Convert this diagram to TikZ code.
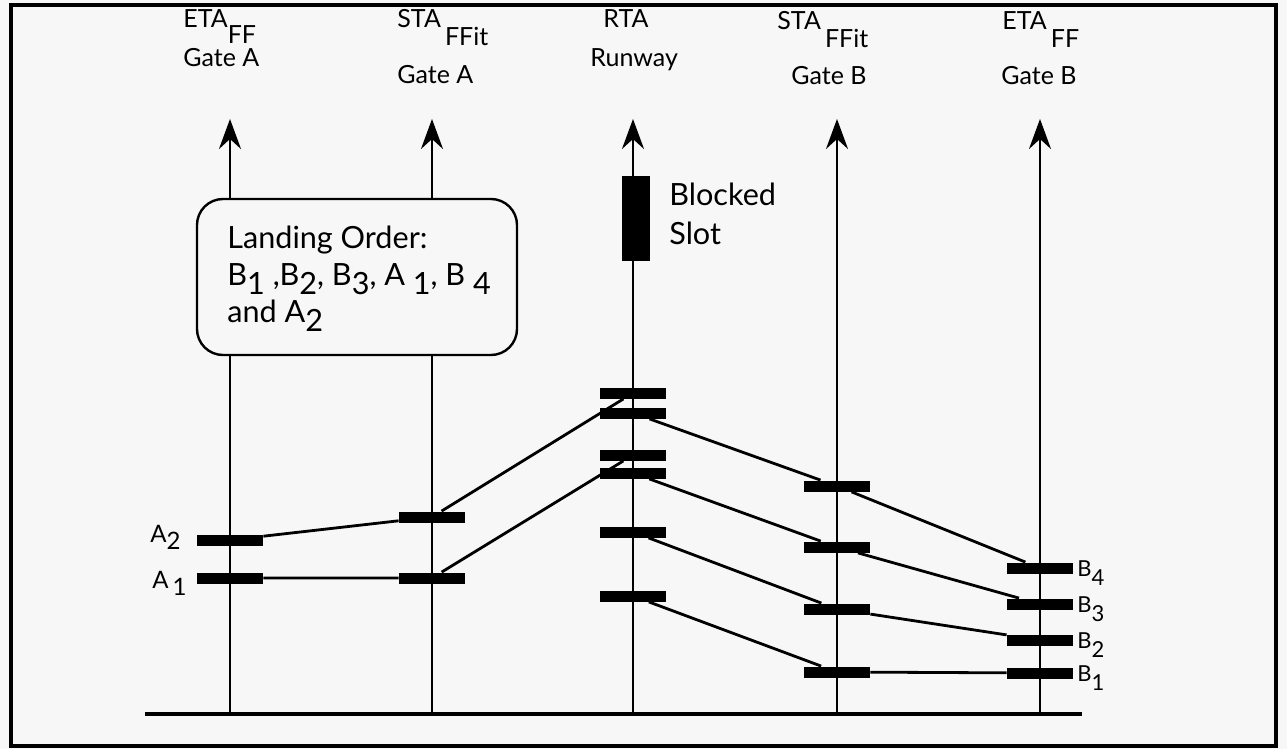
\documentclass[tikz,border=0pt]{standalone}
\usepackage{fontspec}
\setmainfont{Lato}
\usetikzlibrary{arrows.meta}
\definecolor{paper}{RGB}{247,247,247}
% subscripts set as lowered text of the same size
\newcommand\lowsub[2]{\raisebox{-#1}{#2}}
\begin{document}
\begin{tikzpicture}[x=0.5pt,y=-0.5pt,
  frame/.style={line width=1.9pt},
  axis/.style={line width=1.2pt,-{Stealth[length=15pt,width=11pt,inset=5pt]}},
  slotbar/.style={fill=black,inner sep=0pt,minimum width=33pt,minimum height=5.5pt},
  link/.style={line width=1.4pt},
  head/.style={font=\fontsize{12.5}{14}\selectfont,inner sep=0pt,anchor=base west},
  big/.style={font=\fontsize{15.3}{18}\selectfont,inner sep=0pt,anchor=base west},
  tag/.style={font=\fontsize{11}{12}\selectfont,inner sep=0pt,anchor=base west},
]
\fill[paper] (0,0) rectangle (1287,749);
\useasboundingbox (0,0) rectangle (1287,749);
\draw[frame] (11,5) rectangle (1276,746);

% time axes, one per location
\foreach \n/\x in {1/230,2/432,3/633,4/837,5/1040}{
  \coordinate (foot\n) at (\x,714);
  \coordinate (tip\n) at (\x,119);
}
\foreach \n in {1,...,5} \draw[axis] (foot\n) -- (tip\n);

% ground line
\coordinate (groundL) at (145,714);
\coordinate (groundR) at (1082,714);
\draw[frame] (groundL) -- (groundR);

% column headings
\node[head] (h1a) at (183,28) {ETA\lowsub{8pt}{FF}};
\node[head] (h1b) at (183,67) {Gate A};
\node[head] (h2a) at (397,28) {STA\,\lowsub{9pt}{FFit}};
\node[head] (h2b) at (397,84) {Gate A};
\node[head] (h3a) at (603,28) {RTA};
\node[head] (h3b) at (590,67) {Runway};
\node[head] (h4a) at (777,30) {STA\,\lowsub{9pt}{FFit}};
\node[head] (h4b) at (791,85) {Gate B};
\node[head] (h5a) at (1002,30) {ETA\,\lowsub{9pt}{FF}};
\node[head] (h5b) at (1001,85) {Gate B};

% landing order note
\node[draw,line width=1.2pt,rounded corners=13pt,fill=paper,inner sep=0pt,
      minimum width=160pt,minimum height=78pt] (order) at (357,277) {};
\node[big,align=left,anchor=north west,font=\fontsize{15.3}{18.5}\selectfont] (ordtext) at (227,226)
  {Landing Order:\\
   B\lowsub{4.5pt}{1} ,B\lowsub{4.5pt}{2}, B\lowsub{4.5pt}{3}, A \lowsub{4.5pt}{1}, B \lowsub{4.5pt}{4}\\
   and A\lowsub{4.5pt}{2}};

% blocked runway slot
\node[fill=black,inner sep=0pt,minimum width=14pt,minimum height=42.5pt] (blocked) at (636,218.5) {};
\node[big,align=left,anchor=north west,font=\fontsize{15.3}{19.5}\selectfont] (blktext) at (669,183) {Blocked\\Slot};

% slot bars
\node[slotbar] (ga2) at (230,540) {};
\node[slotbar] (ga1) at (230,578) {};
\node[slotbar] (sa2) at (432,517) {};
\node[slotbar] (sa1) at (432,578) {};
\node[slotbar] (ra2) at (633,393) {};
\node[slotbar] (rb4) at (633,413) {};
\node[slotbar] (ra1) at (633,455) {};
\node[slotbar] (rb3) at (633,473) {};
\node[slotbar] (rb2) at (633,532) {};
\node[slotbar] (rb1) at (633,596) {};
\node[slotbar] (sb4) at (837,486) {};
\node[slotbar] (sb3) at (837,547) {};
\node[slotbar] (sb2) at (837,609) {};
\node[slotbar] (sb1) at (837,672) {};
\node[slotbar] (gb4) at (1040,568) {};
\node[slotbar] (gb3) at (1040,604) {};
\node[slotbar] (gb2) at (1040,640) {};
\node[slotbar] (gb1) at (1040,673) {};

% flight paths
\draw[link] (ga2) -- (sa2) -- (ra2);
\draw[link] (ga1) -- (sa1) -- (ra1);
\draw[link] (rb4) -- (sb4) -- (gb4);
\draw[link] (rb3) -- (sb3) -- (gb3);
\draw[link] (rb2) -- (sb2) -- (gb2);
\draw[link] (rb1) -- (sb1) -- (gb1);

% flight labels
\node[tag,font=\fontsize{12}{12}\selectfont] (la2) at (150,542) {A\lowsub{3.5pt}{2}};
\node[tag,font=\fontsize{12}{12}\selectfont] (la1) at (152,588) {A\,\lowsub{3.5pt}{1}};
\node[tag] (lb4) at (1077,576) {B\lowsub{4.5pt}{4}};
\node[tag] (lb3) at (1077,612) {B\lowsub{4.5pt}{3}};
\node[tag] (lb2) at (1077,648) {B\lowsub{4.5pt}{2}};
\node[tag] (lb1) at (1077,681) {B\lowsub{4.5pt}{1}};
\end{tikzpicture}
\end{document}
